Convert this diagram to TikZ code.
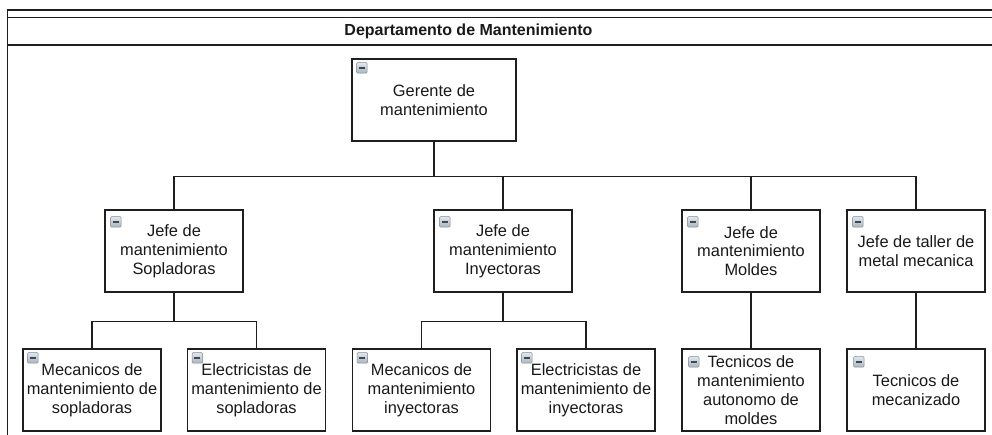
\documentclass[tikz,border=0pt]{standalone}
\usepackage{fontspec}
\setmainfont{Liberation Sans}
\usepackage{xcolor}
\definecolor{linea}{HTML}{1E1E1E}
\definecolor{iconfill}{HTML}{C9D3DD}
\definecolor{iconborde}{HTML}{7F8B96}
\definecolor{icondash}{HTML}{3E4852}
\tikzset{
  puesto/.style={draw=linea, line width=1.4pt, fill=white, align=center,
    minimum width=138pt, minimum height=82pt, inner sep=2pt,
    font=\fontsize{16.4}{18.8}\selectfont, text=black!90},
  icono/.style={draw=iconborde, line width=0.6pt, top color=iconfill!55!white,
    bottom color=iconfill!85!black, rounded corners=1pt, minimum size=10.5pt,
    inner sep=0pt, anchor=north west,
    path picture={\draw[icondash, line width=1.4pt]
      ([xshift=2.3pt]path picture bounding box.west) --
      ([xshift=-2.3pt]path picture bounding box.east);}},
  enlace/.style={draw=linea, line width=1.4pt},
  marco/.style={draw=linea, line width=1.6pt},
}

\begin{document}
\begin{tikzpicture}[x=1pt, y=-1pt]
        \useasboundingbox (0,0) rectangle (992,435);

        % frame and title
        \draw[marco] (7.5,440) -- (7.5,10) -- (995,10);
        \draw[marco] (7.5,17.5) -- (995,17.5);
        \draw[marco] (7.5,45) -- (995,45);
        \node[font=\bfseries\fontsize{16}{19}\selectfont, text=black!90] (titulo) at (468.5,31) {Departamento de Mantenimiento};

        % gerente
        \node[puesto, minimum width=164pt] (gerente) at (434,100) {Gerente de\\mantenimiento};

        % jefes
        \node[puesto] (jsop) at (174,251) {Jefe de\\mantenimiento\\Sopladoras};
        \node[puesto] (jiny) at (503,251) {Jefe de\\mantenimiento\\Inyectoras};
        \node[puesto] (jmol) at (751,251) {Jefe de\\mantenimiento\\Moldes};
        \node[puesto] (jtal) at (916,251) {Jefe de taller de\\metal mecanica};

        % personal
        \node[puesto] (msop) at (92,390) {Mecanicos de\\mantenimiento de\\sopladoras};
        \node[puesto] (esop) at (256.5,390) {Electricistas de\\mantenimiento de\\sopladoras};
        \node[puesto] (miny) at (421.5,390) {Mecanicos de\\mantenimiento\\inyectoras};
        \node[puesto] (einy) at (586,390) {Electricistas de\\mantenimiento de\\inyectoras};
        \node[puesto] (tmol) at (751,390) {Tecnicos de\\mantenimiento\\autonomo de\\moldes};
        \node[puesto] (tmec) at (916,390) {Tecnicos de\\mecanizado};

        % lines
        \foreach \j in {jsop,jiny,jmol,jtal}
            \draw[enlace] (gerente.south) -- ++(0,35) -| (\j.north);
        \foreach \h in {msop,esop}
            \draw[enlace] (jsop.south) -- ++(0,29) -| (\h.north);
        \foreach \h in {miny,einy}
            \draw[enlace] (jiny.south) -- ++(0,29) -| (\h.north);
        \draw[enlace] (jmol) -- (tmol);
        \draw[enlace] (jtal) -- (tmec);

        % icons
        \node[icono] at ([shift={(5,4)}]gerente.north west) {};
        \foreach \n in {jsop,jiny,jmol,jtal}
            \node[icono] at ([shift={(6,7)}]\n.north west) {};
        \foreach \n in {msop,esop,miny,einy}
            \node[icono] at ([shift={(5,4)}]\n.north west) {};
        \node[icono] at ([shift={(7,8)}]tmol.north west) {};
        \node[icono] at ([shift={(7,8)}]tmec.north west) {};

    \end{tikzpicture}
\end{document}
